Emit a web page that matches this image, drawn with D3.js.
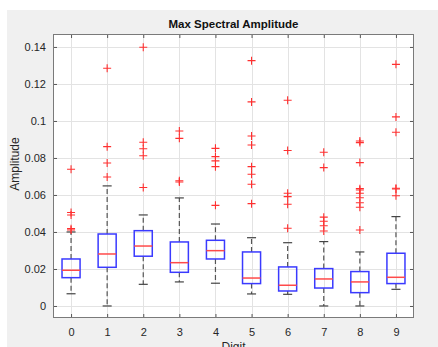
<!DOCTYPE html>
<html>
<head>
<meta charset="utf-8">
<script src="https://cdn.jsdelivr.net/npm/d3@7"></script>
<style>
  html, body { margin: 0; padding: 0; background: #ffffff; }
  svg { display: block; }
  text { font-family: "Liberation Sans", Arial, Helvetica, sans-serif; }
</style>
</head>
<body>
<svg id="chart" width="438" height="347"></svg>
<script>
// Box statistics of the maximum spectral amplitude for each spoken digit
const digits      = ["0", "1", "2", "3", "4", "5", "6", "7", "8", "9"];
const whiskerLow  = [0.0066, 0.0000, 0.0117, 0.0130, 0.0123, 0.0065, 0.0063, 0.0000, 0.0000, 0.0090];
const quartile1   = [0.0153, 0.0209, 0.0269, 0.0182, 0.0254, 0.0121, 0.0081, 0.0097, 0.0072, 0.0121];
const medians     = [0.0193, 0.0281, 0.0324, 0.0234, 0.0299, 0.0151, 0.0112, 0.0146, 0.0130, 0.0155];
const quartile3   = [0.0254, 0.0389, 0.0407, 0.0346, 0.0355, 0.0292, 0.0211, 0.0202, 0.0186, 0.0285];
const whiskerHigh = [0.0400, 0.0649, 0.0492, 0.0584, 0.0443, 0.0369, 0.0342, 0.0348, 0.0292, 0.0483];
const outliers = [
  [0.0411, 0.0418, 0.0492, 0.0505, 0.0739],
  [0.0697, 0.0773, 0.0861, 0.1285],
  [0.0640, 0.0812, 0.0850, 0.0885, 0.1398],
  [0.0670, 0.0677, 0.0906, 0.0946],
  [0.0544, 0.0753, 0.0784, 0.0807, 0.0852],
  [0.0553, 0.0658, 0.0712, 0.0753, 0.0870, 0.0919, 0.1103, 0.1326],
  [0.0420, 0.0550, 0.0591, 0.0609, 0.0840, 0.1112],
  [0.0405, 0.0434, 0.0458, 0.0480, 0.0748, 0.0831],
  [0.0411, 0.0534, 0.0558, 0.0585, 0.0609, 0.0627, 0.0634, 0.0775, 0.0883, 0.0892],
  [0.0596, 0.0632, 0.0636, 0.0939, 0.1022, 0.1306]
];
const yTicks = [0, 0.02, 0.04, 0.06, 0.08, 0.1, 0.12, 0.14];
const yTickLabels = ["0", "0.02", "0.04", "0.06", "0.08", "0.1", "0.12", "0.14"];

const svg = d3.select("#chart");
const W = 438, H = 347;
const plot = { left: 53, right: 414, top: 34, bottom: 318 };

// figure background
svg.append("rect").attr("x", 7).attr("y", 10).attr("width", W - 7).attr("height", H - 10)
  .attr("fill", "#f0f0f0");
svg.append("rect").attr("x", plot.left).attr("y", plot.top)
  .attr("width", plot.right - plot.left).attr("height", plot.bottom - plot.top)
  .attr("fill", "#ffffff");

const x = d3.scaleLinear().domain([-0.5, digits.length - 0.5]).range([plot.left, plot.right]);
const y = d3.scaleLinear().domain([-0.0065, 0.147]).range([plot.bottom, plot.top]);
const xPos = digits.map((d, i) => i);

// grid
const grid = svg.append("g").attr("stroke", "#e3e3e3").attr("stroke-width", 1);
grid.selectAll(".gx").data(xPos).join("line")
  .attr("x1", d => Math.round(x(d)) + 0.5).attr("x2", d => Math.round(x(d)) + 0.5)
  .attr("y1", plot.top).attr("y2", plot.bottom);
grid.selectAll(".gy").data(yTicks).join("line")
  .attr("y1", d => Math.round(y(d)) + 0.5).attr("y2", d => Math.round(y(d)) + 0.5)
  .attr("x1", plot.left).attr("x2", plot.right);

// axes with inward ticks on all four sides
const tickColor = "#262626";
const axisStyle = g => {
  g.select(".domain").remove();
  g.selectAll(".tick line").attr("stroke", "#555");
  g.selectAll(".tick text").attr("fill", tickColor).attr("font-size", 11);
};
svg.append("g").attr("transform", `translate(0,${plot.bottom})`)
  .call(d3.axisBottom(x).tickValues(xPos).tickFormat(i => digits[i]).tickSizeInner(-4).tickSizeOuter(0).tickPadding(10))
  .call(axisStyle);
svg.append("g").attr("transform", `translate(0,${plot.top})`)
  .call(d3.axisTop(x).tickValues(xPos).tickFormat("").tickSizeInner(-4).tickSizeOuter(0))
  .call(axisStyle);
svg.append("g").attr("transform", `translate(${plot.left},0)`)
  .call(d3.axisLeft(y).tickValues(yTicks).tickFormat((d, i) => yTickLabels[i]).tickSizeInner(-4).tickSizeOuter(0).tickPadding(7))
  .call(axisStyle);
svg.append("g").attr("transform", `translate(${plot.right},0)`)
  .call(d3.axisRight(y).tickValues(yTicks).tickFormat("").tickSizeInner(-4).tickSizeOuter(0))
  .call(axisStyle);

svg.append("rect").attr("x", plot.left + 0.5).attr("y", plot.top + 0.5)
  .attr("width", plot.right - plot.left - 1).attr("height", plot.bottom - plot.top - 1)
  .attr("fill", "none").attr("stroke", "#7a7a7a").attr("stroke-width", 1);

// box plots
const boxHalf = 0.25, capHalf = 0.125;
const boxes = svg.append("g");
xPos.forEach(i => {
  const g = boxes.append("g");
  const cx = x(i);
  // whiskers
  g.append("line").attr("x1", cx).attr("x2", cx)
    .attr("y1", y(quartile3[i])).attr("y2", y(whiskerHigh[i]))
    .attr("stroke", "#555").attr("stroke-width", 1.2).attr("stroke-dasharray", "5,3");
  g.append("line").attr("x1", cx).attr("x2", cx)
    .attr("y1", y(quartile1[i])).attr("y2", y(whiskerLow[i]))
    .attr("stroke", "#555").attr("stroke-width", 1.2).attr("stroke-dasharray", "5,3");
  [whiskerHigh[i], whiskerLow[i]].forEach(v => {
    g.append("line").attr("x1", x(i - capHalf)).attr("x2", x(i + capHalf))
      .attr("y1", y(v)).attr("y2", y(v))
      .attr("stroke", "#444").attr("stroke-width", 1.2);
  });
  // box
  g.append("rect").attr("x", x(i - boxHalf)).attr("y", y(quartile3[i]))
    .attr("width", x(i + boxHalf) - x(i - boxHalf)).attr("height", y(quartile1[i]) - y(quartile3[i]))
    .attr("fill", "none").attr("stroke", "#3a3aff").attr("stroke-width", 1.5);
  // median
  g.append("line").attr("x1", x(i - boxHalf)).attr("x2", x(i + boxHalf))
    .attr("y1", y(medians[i])).attr("y2", y(medians[i]))
    .attr("stroke", "#ff4a4a").attr("stroke-width", 1.5);
  // outliers
  outliers[i].forEach(v => {
    const py = y(v);
    g.append("path").attr("d", `M${cx - 4},${py}H${cx + 4}M${cx},${py - 4}V${py + 4}`)
      .attr("stroke", "#ff3030").attr("stroke-width", 1.1).attr("fill", "none");
  });
});

// labels
svg.append("text").attr("x", (plot.left + plot.right) / 2).attr("y", 28)
  .attr("text-anchor", "middle").attr("font-size", 11.5).attr("font-weight", "bold")
  .attr("fill", "#111").text("Max Spectral Amplitude");
svg.append("text").attr("x", (plot.left + plot.right) / 2).attr("y", 351)
  .attr("text-anchor", "middle").attr("font-size", 12).attr("fill", tickColor).text("Digit");
svg.append("text").attr("transform", "translate(19,164) rotate(-90)")
  .attr("text-anchor", "middle").attr("font-size", 12).attr("fill", tickColor).text("Amplitude");
</script>
</body>
</html>
